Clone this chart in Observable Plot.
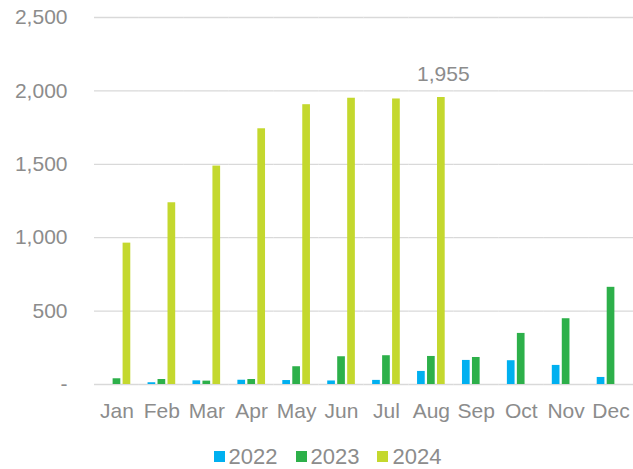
<!DOCTYPE html>
<html><head><meta charset="utf-8">
<script src="https://cdn.jsdelivr.net/npm/d3@7"></script>
<script src="https://cdn.jsdelivr.net/npm/@observablehq/plot@0.6"></script>
<style>
body{margin:0;background:#fff;font-family:"Liberation Sans",Arial,sans-serif;}
#chart svg{display:block}
.lg-swatches{margin:0 !important;font-family:"Liberation Sans",Arial,sans-serif;font-size:22px;color:#8c8c8c;}
.lg-swatches-wrap{justify-content:center;min-height:33px;padding-left:22px;}
.lg-swatch{margin-right:18px !important;}
.lg-swatch:last-child{margin-right:0 !important;}
.lg-swatch > svg{margin-right:4px !important;}
</style></head><body><div id="chart"></div><div id="legend"></div>
<script>
const months = ["Jan","Feb","Mar","Apr","May","Jun","Jul","Aug","Sep","Oct","Nov","Dec"];
const years = ["2022","2023","2024"];
const values2022 = [null, 12, 25, 29, 27, 24, 28, 89, 164, 162, 130, 48];
const values2023 = [39, 34, 23, 34, 121, 189, 196, 191, 184, 348, 448, 662];
const values2024 = [963, 1238, 1488, 1742, 1906, 1950, 1945, 1955, null, null, null, null];
const labelled = [{month: "Aug", year: "2024", value: 1955}];
const colors = ["#00B0F0", "#2DB04A", "#C4D82E"];
const yTicks = [0, 500, 1000, 1500, 2000, 2500];

const series = [values2022, values2023, values2024];
const rows = [];
months.forEach((m, i) => {
  series.forEach((arr, j) => {
    if (arr[i] != null) rows.push({month: m, year: years[j], value: arr[i]});
  });
});
const fmt = d => d === 0 ? "-" : d3.format(",")(d);
const textColor = "#8c8c8c";

const chart = Plot.plot({
  width: 633, height: 440,
  marginTop: 17, marginBottom: 56, marginLeft: 94, marginRight: 0,
  style: {fontFamily: '"Liberation Sans", Arial, sans-serif', fontSize: "21px", color: textColor, background: "white"},
  fx: {domain: months, padding: 0, round: false, label: null, axis: null},
  x: {domain: years, paddingInner: 0.23, paddingOuter: 0.865, round: false, axis: null},
  y: {domain: [0, 2500], axis: null},
  color: {domain: years, range: colors},
  marks: [
    Plot.gridY(yTicks, {stroke: "#d9d9d9", strokeOpacity: 1, strokeWidth: 1.3}),
    Plot.axisY(yTicks, {tickSize: 0, tickPadding: 27, tickFormat: fmt, label: null, fontSize: 21, fill: textColor}),
    Plot.axisFx({anchor: "bottom", tickSize: 0, tickPadding: 19, label: null, fontSize: 21, fill: textColor}),
    Plot.barY(rows, {fx: "month", x: "year", y: "value", fill: "year"}),
    Plot.text(labelled, {fx: "month", x: "year", y: "value", text: d => d3.format(",")(d.value), dy: -23, dx: 2, fill: textColor, fontSize: 21})
  ]
});
document.getElementById("chart").appendChild(chart);

const legend = Plot.legend({
  color: {domain: years, range: colors},
  legend: "swatches",
  swatchSize: 11,
  className: "lg"
});
document.getElementById("legend").appendChild(legend);
</script></body></html>
